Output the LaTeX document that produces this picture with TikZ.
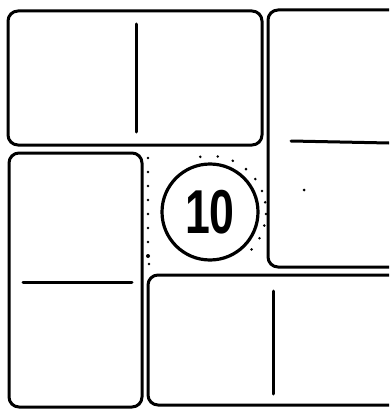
\documentclass[tikz,border=0pt]{standalone}
\usepackage{fontspec}
\setmainfont{Liberation Sans}
\begin{document}
\begin{tikzpicture}[x=1pt,y=-1pt,
  domino/.style={draw=black,line width=3pt,rounded corners=10pt,fill=white},
  pipline/.style={draw=black,line width=3pt,line cap=round},
  speck/.style={fill=black}]
\useasboundingbox (0,0) rectangle (389,409);
\clip (0,0) rectangle (389,409);
% top domino
\draw[domino] (8,11) rectangle (262,145);
\draw[pipline] (136,24) -- (136,132);
% right domino
\draw[domino] (268,10) rectangle (420,267);
\draw[pipline] (291,141) -- (389,143);
% left domino
\draw[domino] (9,153) rectangle (142,407);
\draw[pipline] (23,282) -- (132,282);
% bottom domino
\draw[domino] (148,275) rectangle (420,405);
\draw[pipline] (273,291) -- (273,394);
% central circle
\node[circle,draw=black,line width=3.2pt,minimum size=96pt,inner sep=0pt] (c) at (210,212) {};
\node[font=\fontsize{62}{62}\bfseries\selectfont,xscale=0.72] (ten) at (c.center) {10};
% specks around the circle
\foreach \a in {100,82,66,50,36,22,10,-2,-14,-28,-42} {
  \fill[speck] (c.center) ++(-\a:56) circle (1.4pt);
}
\foreach \yy in {158,172,186,200,214,228,242} {
  \fill[speck] (148,\yy) circle (1.3pt);
}
\fill[speck] (148,256) circle (2pt);
\fill[speck] (149,264) circle (1.3pt);
\fill[speck] (304,190) circle (1.5pt);
\end{tikzpicture}
\end{document}
